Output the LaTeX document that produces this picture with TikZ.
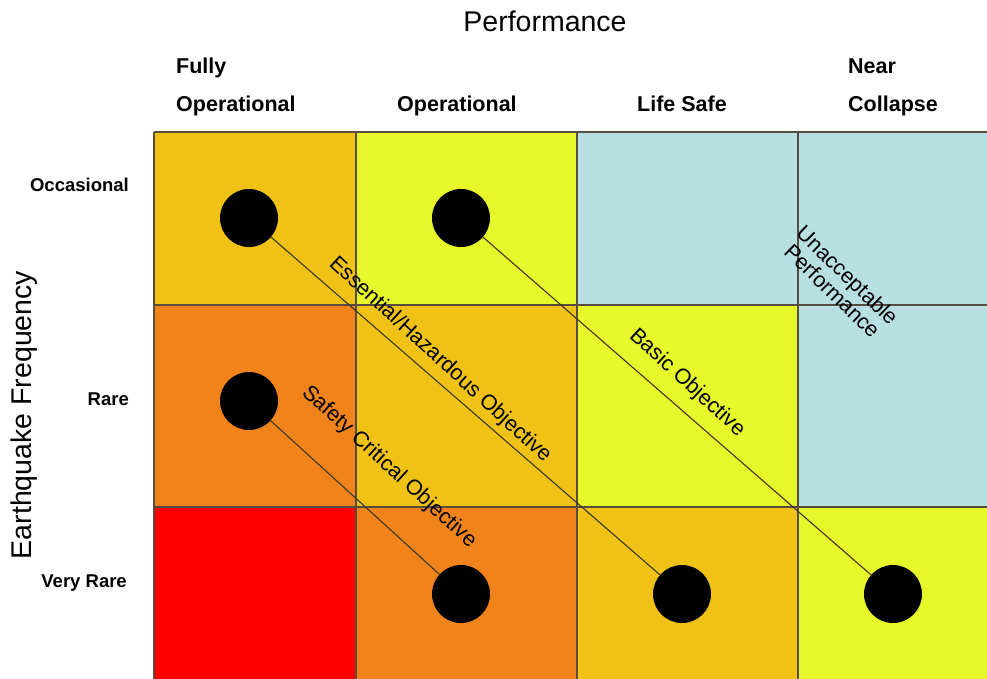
\documentclass[tikz,border=0pt]{standalone}
\usepackage{fontspec}
\setmainfont{Liberation Sans}
\definecolor{cgold}{RGB}{240,194,22}
\definecolor{cyel}{RGB}{230,247,42}
\definecolor{cblue}{RGB}{184,223,226}
\definecolor{corange}{RGB}{240,132,26}
\definecolor{cred}{RGB}{255,0,0}
\definecolor{cgrid}{RGB}{88,76,62}
\definecolor{cline}{RGB}{60,56,40}
\tikzset{
  gridline/.style={draw=cgrid, line width=1.8pt},
  dot/.style={circle, fill=black, minimum size=58pt, inner sep=0pt},
  conn/.style={draw=cline, line width=1.1pt},
  collab/.style={font=\bfseries\fontsize{21.5}{25}\selectfont, inner sep=0pt, anchor=base west},
  rowlab/.style={font=\bfseries\fontsize{18.5}{22}\selectfont, inner sep=0pt, anchor=base east},
  axislab/.style={font=\fontsize{28.5}{33}\selectfont, inner sep=0pt},
  objlab/.style={font=\fontsize{21.5}{25}\selectfont, inner sep=0pt},
}
\begin{document}
\begin{tikzpicture}[x=1pt,y=-1pt]
\useasboundingbox (0,0) rectangle (987,679);
\clip (0,0) rectangle (987,679);
% cells
\fill[cgold]   (154,132) rectangle (356,305);
\fill[cyel]    (356,132) rectangle (577,305);
\fill[cblue]   (577,132) rectangle (990,305);
\fill[corange] (154,305) rectangle (356,507);
\fill[cgold]   (356,305) rectangle (577,507);
\fill[cyel]    (577,305) rectangle (798,507);
\fill[cblue]   (798,305) rectangle (990,507);
\fill[cred]    (154,507) rectangle (356,682);
\fill[corange] (356,507) rectangle (577,682);
\fill[cgold]   (577,507) rectangle (798,682);
\fill[cyel]    (798,507) rectangle (990,682);
% grid
\draw[gridline] (154,132) -- (990,132);
\draw[gridline] (154,305) -- (990,305);
\draw[gridline] (154,507) -- (990,507);
\draw[gridline] (154,132) -- (154,682);
\draw[gridline] (356,132) -- (356,682);
\draw[gridline] (577,132) -- (577,682);
\draw[gridline] (798,132) -- (798,682);
% headers
\node[axislab] (perf) at (545,21) {Performance};
\node[collab] (fo1) at (176,74) {Fully};
\node[collab] (fo2) at (176,112) {Operational};
\node[collab] (op) at (397,112) {Operational};
\node[collab] (ls) at (637,112) {Life Safe};
\node[collab] (nc1) at (848,74) {Near};
\node[collab] (nc2) at (848,112) {Collapse};
% row labels
\node[rowlab] (occ) at (129,191) {Occasional};
\node[rowlab] (rare) at (129,405) {Rare};
\node[rowlab] (vrare) at (127,587) {Very Rare};
\node[axislab, rotate=90] (eqf) at (24,415) {Earthquake Frequency};
% dots
\node[dot] (d11) at (249,218) {};
\node[dot] (d12) at (461,218) {};
\node[dot] (d21) at (249,401) {};
\node[dot] (d32) at (461,594) {};
\node[dot] (d33) at (682,594) {};
\node[dot] (d34) at (893,594) {};
% connectors
\draw[conn] (d11) -- (d33);
\draw[conn] (d12) -- (d34);
\draw[conn] (d21) -- (d32);
% labels
\node[objlab, rotate=-42.5] (ehl) at (440,360) {Essential/Hazardous Objective};
\node[objlab, rotate=-42.5] (bol) at (687,383) {Basic Objective};
\node[objlab, rotate=-42.5] (scl) at (389,467) {Safety Critical Objective};
\node[objlab, rotate=-44, align=center] (upl) at (840,283) {Unacceptable\\[-3pt]Performance};
\end{tikzpicture}
\end{document}
